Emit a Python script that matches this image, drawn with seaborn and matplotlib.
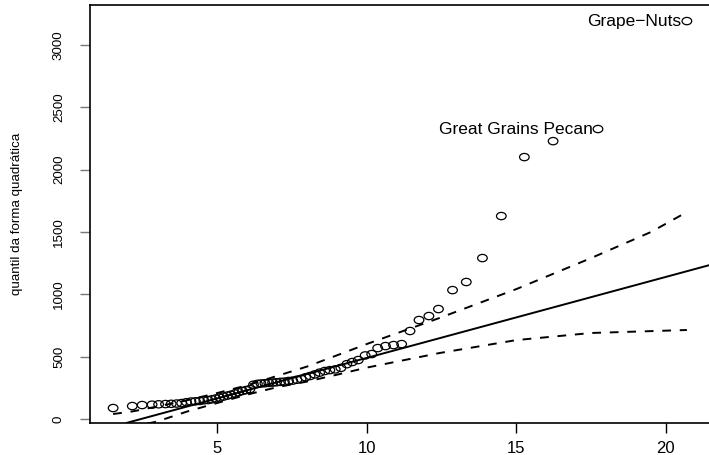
import numpy as np
import pandas as pd
import matplotlib
matplotlib.use("Agg")
import matplotlib.pyplot as plt
from matplotlib.path import Path
from matplotlib.transforms import Affine2D
import seaborn as sns

# quantis teoricos (qui-quadrado) x quantis observados da forma quadratica
qui_quantis = [1.53, 2.17, 2.50, 2.83, 3.05, 3.28, 3.47, 3.65, 3.82, 3.98,
               4.13, 4.28, 4.42, 4.56, 4.70, 4.83, 4.96, 5.09, 5.22, 5.35,
               5.47, 5.60, 5.72, 5.85, 5.97, 6.10, 6.22, 6.35, 6.47, 6.60,
               6.73, 6.86, 6.99, 7.12, 7.25, 7.39, 7.53, 7.67, 7.81, 7.96,
               8.11, 8.27, 8.43, 8.60, 8.77, 8.95, 9.14, 9.34, 9.52, 9.72,
               9.95, 10.17, 10.37, 10.63, 10.90, 11.17, 11.45, 11.75, 12.08,
               12.40, 12.87, 13.33, 13.87, 14.50, 15.27, 16.23, 17.73, 20.70]
forma_quad = [88, 104, 112, 115, 118, 120, 122, 124, 128, 135,
              140, 142, 145, 150, 152, 158, 165, 172, 180, 188,
              195, 205, 215, 225, 232, 240, 275, 282, 285, 287,
              290, 292, 295, 298, 300, 305, 308, 315, 322, 335,
              345, 358, 372, 385, 392, 398, 410, 440, 457, 473,
              510, 521, 569, 585, 593, 601, 706, 794, 826,
              882, 1034, 1099, 1291, 1628, 2101, 2229, 2326, 3192]

# reta de referencia
intercepto = -160
inclinacao = 65

# envelope (tracejado)
env_sup_x = [1.53, 2.2, 3.0, 4.0, 5.0, 6.0, 7.0, 8.0, 9.0, 10.0, 12.43, 15.0, 17.5, 19.5, 20.7]
env_sup_y = [40, 62, 100, 150, 208, 270, 345, 420, 510, 601, 810, 1042, 1291, 1500, 1660]
env_inf_x = [1.53, 3.0, 4.0, 5.0, 6.0, 7.0, 8.0, 9.0, 10.0, 12.43, 15.0, 17.5, 20.7]
env_inf_y = [-95, -20, 60, 128, 195, 255, 300, 355, 412, 529, 633, 690, 714]

rotulos = {"Grape\u2212Nuts": (20.70, 3192), "Great Grains Pecan": (17.73, 2326)}

sns.set_theme(style="white")
plt.rcParams['font.family'] = ['Liberation Sans', 'DejaVu Sans']

df = pd.DataFrame({"qui": qui_quantis, "fq": forma_quad})
sup = pd.DataFrame({"x": env_sup_x, "y": env_sup_y})
inf = pd.DataFrame({"x": env_inf_x, "y": env_inf_y})

# circulo um pouco achatado, como na figura original
elipse = Path.unit_circle().transformed(Affine2D().scale(1.0, 0.76))

fig = plt.figure(figsize=(7.09, 4.55), dpi=100)
ax = fig.add_axes([90 / 709, 32 / 455, 625 / 709, 418 / 455])

ax.axline((0, intercepto), slope=inclinacao, color="black", lw=1.4)
for env in (sup, inf):
    sns.lineplot(data=env, x="x", y="y", ax=ax, color="black", lw=1.4,
                 dashes=False, estimator=None, sort=False)
for ln in ax.lines[1:]:
    ln.set_dashes([4.5, 4.5])

sns.scatterplot(data=df, x="qui", y="fq", ax=ax, s=48, marker=elipse,
                facecolor="none", edgecolor="black", linewidth=0.9, zorder=3)

for nome, (xx, yy) in rotulos.items():
    ax.annotate(nome, (xx, yy), xytext=(-3.8, 0), textcoords="offset points",
                ha="right", va="center", fontsize=12.5, color="black")

ax.set_xlim(0.757, 21.64)
ax.set_ylim(-32, 3321)
ax.set_xticks([5, 10, 15, 20])
ax.set_yticks([0, 500, 1000, 1500, 2000, 2500, 3000])
ax.set_xlabel("")
ax.set_ylabel("quantil da forma quadrática", fontsize=9.6, color="black")
ax.yaxis.set_label_coords(-0.107, 0.5)

ax.tick_params(axis="x", direction="out", length=7, width=1, color="black",
               pad=6, labelsize=12, labelcolor="black", bottom=True)
ax.tick_params(axis="y", direction="out", length=7, width=1, color="#777777",
               pad=11, labelsize=9.6, labelcolor="black", left=True)
for lbl in ax.get_yticklabels():
    lbl.set_rotation(90)
    lbl.set_va("center")

for sp in ax.spines.values():
    sp.set_color("black")
    sp.set_linewidth(1.2)

fig.savefig("out.png", dpi=100)
